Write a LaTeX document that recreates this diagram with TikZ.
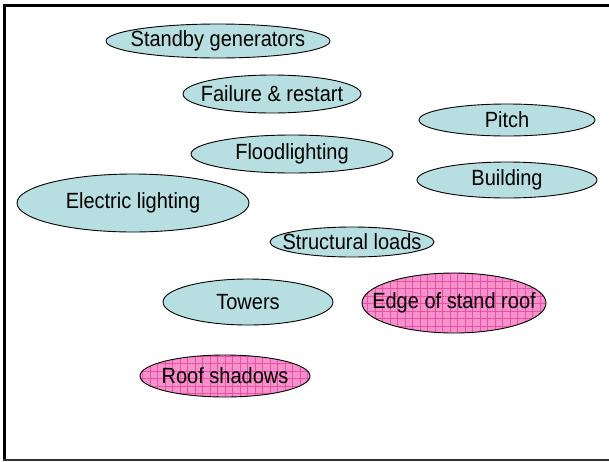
\documentclass[tikz,border=0pt]{standalone}
\usepackage{fontspec}
\setmainfont{Liberation Sans}
\usetikzlibrary{patterns.meta}
\definecolor{ellcyan}{RGB}{183,222,224}
\definecolor{ellpink}{RGB}{245,145,203}
\definecolor{gridpink}{RGB}{236,80,165}
\newcommand{\tallx}[1]{\scalebox{1}[1.1]{#1}}
\tikzset{
  ell/.style={draw=black, line width=0.9pt},
  cyanell/.style={ell, fill=ellcyan},
  pinkell/.style={ell, preaction={fill=ellpink},
    pattern={Hatch[angle=0, distance=7.5pt, line width=0.35pt]}, pattern color=gridpink},
  lbl/.style={font=\fontsize{20}{24}\selectfont, text=black, inner sep=0pt},
  frame/.style={draw=black}
}
\begin{document}
\begin{tikzpicture}[x=1pt,y=-1pt]
\useasboundingbox (0,0) rectangle (609,461);
\fill[white] (0,0) rectangle (609,461);
\draw[frame, line width=3pt] (3,5) -- (609,5);
\draw[frame, line width=3pt] (4.5,5) -- (4.5,460);
\draw[frame, line width=2pt, draw=black!80] (3,459.5) -- (609,459.5);

\draw[cyanell] (218,41) ellipse [x radius=112pt, y radius=17pt] node[lbl] (sg) {\tallx{Standby generators}};
\draw[cyanell] (272,94) ellipse [x radius=89pt, y radius=19pt] node[lbl] (fr) {\tallx{Failure \& restart}};
\draw[cyanell] (507,120) ellipse [x radius=88pt, y radius=16pt] node[lbl] (pi) {\tallx{Pitch}};
\draw[cyanell] (292,154) ellipse [x radius=101pt, y radius=19pt] node[lbl] (fl) {\tallx{Floodlighting}};
\draw[cyanell] (507,180) ellipse [x radius=90pt, y radius=18pt] node[lbl] (bu) {\tallx{Building}};
\draw[cyanell] (133,203) ellipse [x radius=116pt, y radius=29pt] node[lbl] (el) {\tallx{Electric lighting}};
\draw[cyanell] (352,242) ellipse [x radius=82pt, y radius=15pt] node[lbl] (sl) {\tallx{Structural loads}};
\draw[cyanell] (248,302) ellipse [x radius=85pt, y radius=23pt] node[lbl] (to) {\tallx{Towers}};
\draw[pinkell] (454,303) ellipse [x radius=92pt, y radius=30pt] node[lbl] (es) {\tallx{Edge of stand roof}};
\draw[pinkell] (225,376) ellipse [x radius=85pt, y radius=21pt] node[lbl] (rs) {\tallx{Roof shadows}};
\end{tikzpicture}
\end{document}
